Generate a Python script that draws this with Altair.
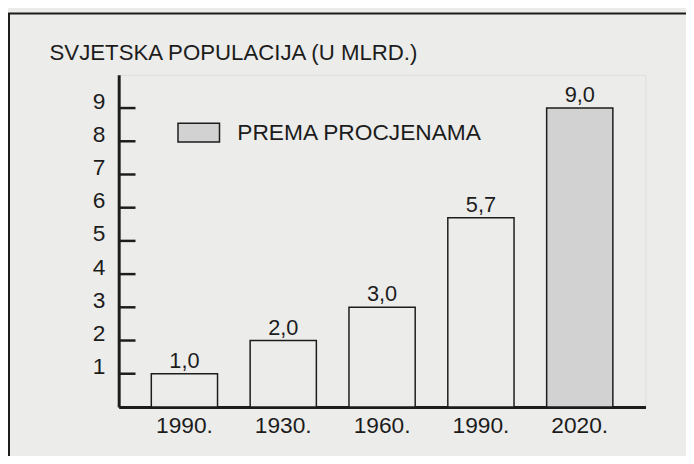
import json
import altair as alt
import pandas as pd

# --- data ---
godine = ["1990.", "1930.", "1960.", "1990.", "2020."]
stanovnistvo = [1.0, 2.0, 3.0, 5.7, 9.0]
tip = ["izmjereno", "izmjereno", "izmjereno", "izmjereno", "PREMA PROCJENAMA"]
y_oznake = [1, 2, 3, 4, 5, 6, 7, 8, 9]
naslov = "SVJETSKA POPULACIJA (U MLRD.)"

BG = "#ececea"
INK = "#1c1c1c"
FONT = "Liberation Sans"

df = pd.DataFrame({
    "idx": list(range(len(godine))),
    "godina": godine,
    "vrijednost": stanovnistvo,
    "tip": tip,
})
ticks_df = pd.DataFrame({"v": y_oznake})

label_expr = json.dumps(godine) + "[datum.value]"

x_enc = alt.X(
    "idx:O",
    scale=alt.Scale(paddingInner=0.33, paddingOuter=0.33),
    axis=alt.Axis(
        title=None, labelExpr=label_expr, labelAngle=0, ticks=False,
        domainColor=INK, domainWidth=3, labelFontSize=23, labelColor=INK,
        labelPadding=8, labelFont=FONT,
    ),
)
y_scale = alt.Scale(domain=[0, 10], nice=False, zero=True)

bars = alt.Chart(df).mark_bar(stroke=INK, strokeWidth=1.5, opacity=1).encode(
    x=x_enc,
    y=alt.Y(
        "vrijednost:Q",
        scale=y_scale,
        axis=alt.Axis(
            title=None, values=y_oznake, ticks=False, grid=False,
            domainColor=INK, domainWidth=3, labelFontSize=23,
            labelColor=INK, labelPadding=14, labelBaseline="alphabetic",
            labelFont=FONT,
        ),
    ),
    color=alt.Color(
        "tip:N",
        scale=alt.Scale(domain=["izmjereno", "PREMA PROCJENAMA"], range=[BG, "#d2d2d2"]),
        legend=alt.Legend(
            title=None, values=["PREMA PROCJENAMA"], orient="none",
            legendX=59, legendY=36.5, padding=0,
            symbolType="M-1,-0.452H1V0.452H-1Z", symbolSize=1764,
            symbolStrokeColor=INK, symbolStrokeWidth=1.5, symbolOpacity=1,
            labelFontSize=23, labelColor=INK, labelOffset=17, labelFont=FONT,
            labelLimit=400,
        ),
    ),
)

text = alt.Chart(df).mark_text(
    dy=-6, baseline="alphabetic", fontSize=22, color=INK, font=FONT
).transform_calculate(
    oznaka="replace(format(datum.vrijednost, '.1f'), '.', ',')"
).encode(
    x="idx:O",
    y=alt.Y("vrijednost:Q", scale=y_scale),
    text="oznaka:N",
)

tick_rules = alt.Chart(ticks_df).mark_rule(color=INK, strokeWidth=2.5).encode(
    y=alt.Y("v:Q", scale=y_scale),
    x=alt.value(0),
    x2=alt.value(17),
)

okvir = alt.Chart(pd.DataFrame({"a": [0]})).mark_rect(
    fill=None, stroke=INK, strokeWidth=2
).encode(
    x=alt.value(-111),
    x2=alt.value(700),
    y=alt.value(-62),
    y2=alt.value(500),
)

chart = alt.layer(okvir, bars, text, tick_rules).properties(
    width=533,
    height=336,
    autosize=alt.AutoSizeParams(type="none"),
    padding={"left": 112, "top": 65, "right": 41, "bottom": 47},
    background=BG,
    title=alt.Title(
        naslov, anchor="start", frame="group", dx=-70, fontSize=22.5,
        fontWeight="normal", baseline="alphabetic", offset=-70,
        font=FONT, color=INK,
    ),
).configure_view(stroke=None).configure(font=FONT)

chart.save("out.html", embed_options={"renderer": "svg", "actions": False})
